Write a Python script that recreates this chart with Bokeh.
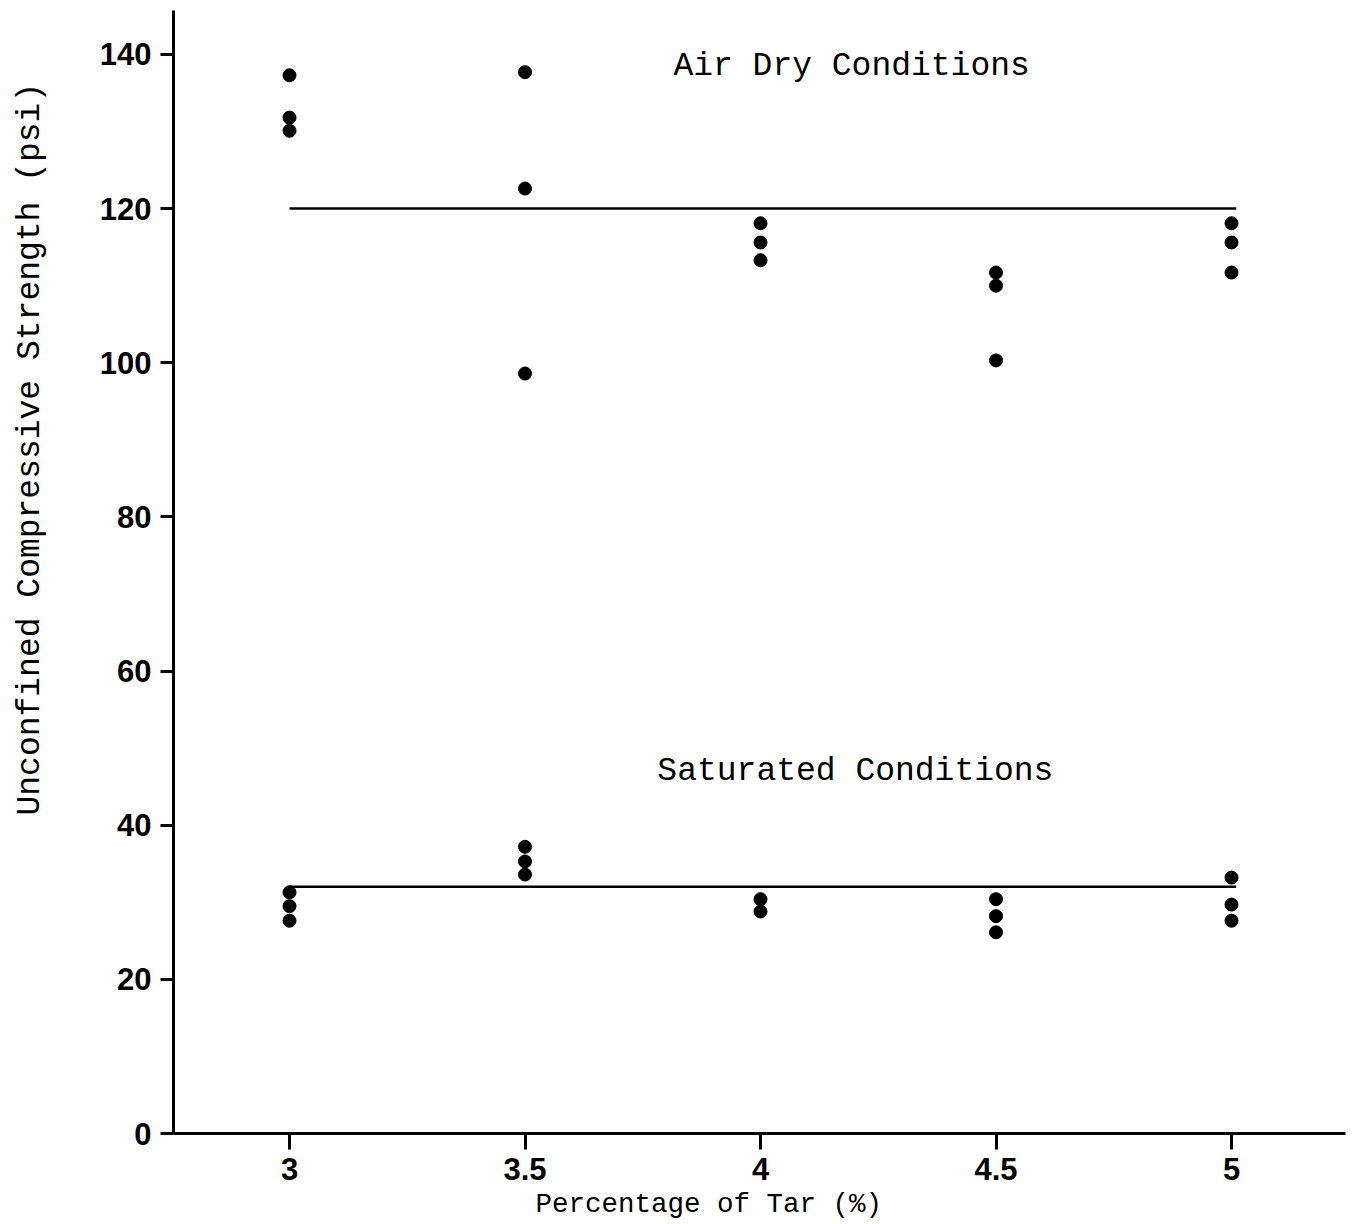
from bokeh.plotting import figure
from bokeh.models import Range1d, FixedTicker, Label, Title, LinearAxis
from bokeh.embed import file_html
from bokeh.resources import INLINE

# ---- data ----
tar_ticks = [3, 3.5, 4, 4.5, 5]
tick_labels = ["3", "3.5", "4", "4.5", "5"]
y_ticks = [0, 20, 40, 60, 80, 100, 120, 140]

air_x = [3, 3, 3, 3.5, 3.5, 3.5, 4, 4, 4, 4.5, 4.5, 4.5, 5, 5, 5]
air_y = [137.3, 131.8, 130.1, 137.7, 122.6, 98.6, 118.1, 115.6, 113.3,
         111.7, 110.0, 100.3, 118.1, 115.6, 111.7]

sat_x = [3, 3, 3, 3.5, 3.5, 3.5, 4, 4, 4.5, 4.5, 4.5, 5, 5, 5]
sat_y = [31.3, 29.5, 27.6, 37.2, 35.3, 33.6, 30.4, 28.8, 30.4, 28.2, 26.1,
         33.2, 29.7, 27.6]

air_mean_x = [3, 5.01]
air_mean_y = [120, 120]
sat_mean_x = [3, 5.01]
sat_mean_y = [32, 32]

mono = "Liberation Mono"
sans = "Liberation Sans"

p = figure(width=1354, height=1224, output_backend="svg", toolbar_location=None,
           x_range=Range1d(2.7537, 5.242), y_range=Range1d(0, 145.7),
           min_border_left=173, min_border_right=9, min_border_top=10,
           min_border_bottom=91)
p.outline_line_color = None
p.xgrid.visible = False
p.ygrid.visible = False
p.background_fill_color = "white"
p.border_fill_color = "white"

for ax in (p.xaxis[0], p.yaxis[0]):
    ax.axis_line_width = 3
    ax.axis_line_color = "black"
    ax.major_tick_line_width = 3
    ax.major_tick_line_color = "black"
    ax.minor_tick_line_color = None
    ax.major_tick_in = 0
    ax.major_label_text_font = sans
    ax.major_label_text_font_style = "bold"
    ax.major_label_text_font_size = "31px"
    ax.major_label_text_color = "black"

p.xaxis[0].ticker = FixedTicker(ticks=tar_ticks)
p.xaxis[0].major_label_overrides = {t: l for t, l in zip(tar_ticks, tick_labels)}
p.xaxis[0].major_tick_out = 16
p.xaxis[0].major_label_standoff = 8

p.yaxis[0].ticker = FixedTicker(ticks=y_ticks)
p.yaxis[0].major_tick_out = 13
p.yaxis[0].major_label_standoff = 9

p.line(air_mean_x, air_mean_y, line_color="black", line_width=2.5)
p.line(sat_mean_x, sat_mean_y, line_color="black", line_width=2.5)

p.scatter(air_x, air_y, size=13, color="black")
p.scatter(sat_x, sat_y, size=13, color="black")

p.add_layout(Label(x=3.815, y=138.4, text="Air Dry Conditions", text_font=mono,
                   text_font_size="33px", text_baseline="middle", text_align="left",
                   text_color="black"))
p.add_layout(Label(x=3.781, y=47.0, text="Saturated Conditions", text_font=mono,
                   text_font_size="33px", text_baseline="middle", text_align="left",
                   text_color="black"))

xt = Title(text="Percentage of Tar (%)", text_font=mono, text_font_size="27.5px",
           text_font_style="normal", align="left", offset=362, standoff=9,
           text_color="black")
p.add_layout(xt, "below")

# invisible spacer axis (one hidden tick, empty label) between the y axis and its title
spacer = LinearAxis(ticker=FixedTicker(ticks=[70]), axis_line_color=None,
                    major_tick_line_color=None, minor_tick_line_color=None,
                    major_tick_out=36, major_tick_in=0, minor_tick_out=0,
                    major_label_standoff=0, major_label_overrides={70: ""})
p.add_layout(spacer, "left")

yt = Title(text="Unconfined Compressive Strength (psi)", text_font=mono,
           text_font_size="33px", text_font_style="normal", align="left",
           vertical_align="top", offset=318, standoff=20, text_color="black")
p.add_layout(yt, "left")

open("out.html", "w").write(file_html(p, INLINE))
